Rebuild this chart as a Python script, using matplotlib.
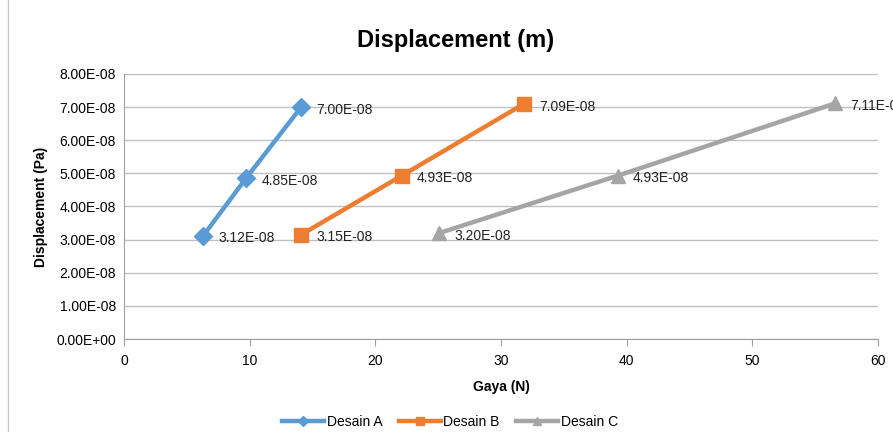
import matplotlib.pyplot as plt
from matplotlib.lines import Line2D

plt.rcParams['font.family'] = ['Liberation Sans', 'DejaVu Sans']

# gaya (N) dan displacement tiap desain
gaya_a = [6.3, 9.7, 14.1]
disp_a = [3.12e-08, 4.85e-08, 7.00e-08]
gaya_b = [14.1, 22.1, 31.8]
disp_b = [3.15e-08, 4.93e-08, 7.09e-08]
gaya_c = [25.1, 39.3, 56.6]
disp_c = [3.20e-08, 4.93e-08, 7.11e-08]

series = [
    ("Desain A", gaya_a, disp_a, "#5b9bd5", "D", 9),
    ("Desain B", gaya_b, disp_b, "#ed7d31", "s", 10),
    ("Desain C", gaya_c, disp_c, "#a5a5a5", "^", 10),
]

fig = plt.figure(figsize=(8.93, 4.32), dpi=100)
ax = fig.add_axes([0.139, 0.215, 0.844, 0.614])

for nama, x, y, warna, mk, ms in series:
    ax.plot(x, y, color=warna, lw=3.2, marker=mk, ms=ms, label=nama, zorder=3)
    for xi, yi in zip(x, y):
        ax.annotate(f"{yi:.2E}", (xi, yi), xytext=(11, -2), textcoords="offset points",
                    va="center", ha="left", fontsize=10, color="#222222",
                    annotation_clip=False, clip_on=False)

ax.set_xlim(0, 60)
ax.set_ylim(0, 8e-08)
ax.set_xticks(range(0, 61, 10))
ax.set_yticks([i * 1e-08 for i in range(9)])
ax.set_yticklabels([f"{i * 1e-08:.2E}" if i else "0.00E+00" for i in range(9)])
ax.grid(axis="y", color="#c0c0c0", lw=1)
ax.set_axisbelow(True)

for s in ["top", "right"]:
    ax.spines[s].set_visible(False)
ax.spines["left"].set_color("#a0a0a0")
ax.spines["bottom"].set_color("#a0a0a0")
ax.tick_params(axis="y", length=0, labelsize=10, pad=6)
ax.tick_params(axis="x", length=5, color="#a0a0a0", labelsize=10, pad=6)

fig.text(456 / 893, 1 - 40 / 432, "Displacement (m)", fontsize=17, fontweight="bold",
         ha="center", va="center")
ax.set_xlabel("Gaya (N)", fontsize=10, fontweight="bold", labelpad=8)
ax.set_ylabel("Displacement (Pa)", fontsize=10, fontweight="bold", labelpad=6)

fig.legend(loc="center", bbox_to_anchor=(450 / 893, 1 - 422 / 432), ncol=3, frameon=False,
           fontsize=10, handlelength=3, handletextpad=0.2, columnspacing=1.2, markerscale=0.6)

# garis tepi area grafik
fig.add_artist(Line2D([8 / 893, 8 / 893], [0, 1], color="#c8c8c8", lw=1))

fig.savefig("out.png", dpi=100)
